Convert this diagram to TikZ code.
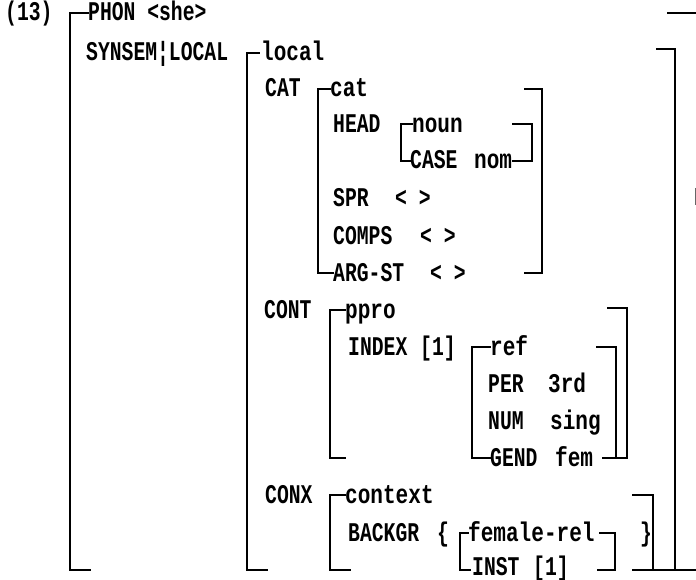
\documentclass[tikz,border=0pt]{standalone}
\usepackage{fontspec}
\newfontfamily\avmfont[FakeStretch=0.73]{Liberation Mono}
\newfontfamily\avmlower[FakeStretch=0.78]{Liberation Mono}
\tikzset{
  lbl/.style={anchor=base west, inner sep=0pt, font=\avmfont\bfseries\fontsize{27}{27}\selectfont},
  val/.style={anchor=base west, inner sep=0pt, font=\avmlower\bfseries\fontsize{27}{27}\selectfont},
  brk/.style={line width=1.6pt, line cap=rect}
}
\begin{document}
\begin{tikzpicture}[x=1pt,y=-1pt]
\useasboundingbox (0,0) rectangle (696,580);
% texts (baseline = row centre + 8)
\node[lbl] (num) at (5,21) {(13)};
\node[lbl] (phon) at (88,21) {PHON <she>};
\node[lbl] (synsem) at (86,61) {SYNSEM¦LOCAL};
\node[val] (local) at (261,61) {local};
\node[lbl] (catf) at (265,97) {CAT};
\node[val] (cat) at (330,97) {cat};
\node[lbl] (head) at (333,133) {HEAD};
\node[val] (noun) at (412,133) {noun};
\node[lbl] (case) at (410,169) {CASE};
\node[val] (nom) at (474,169) {nom};
\node[lbl] (spr) at (333,207) {SPR};
\node[lbl] (sprv) at (395,207) {< >};
\node[lbl] (comps) at (333,244) {COMPS};
\node[lbl] (compsv) at (420,244) {< >};
\node[lbl] (argst) at (333,281) {ARG-ST};
\node[lbl] (argstv) at (430,281) {< >};
\node[lbl] (cont) at (264,318) {CONT};
\node[val] (ppro) at (345,318) {ppro};
\node[lbl] (index) at (348,355) {INDEX};
\node[lbl] (indexv) at (420,355) {[1]};
\node[val] (ref) at (490,355) {ref};
\node[lbl] (per) at (488,392) {PER};
\node[val] (perv) at (548,392) {3rd};
\node[lbl] (numf) at (488,429) {NUM};
\node[val] (numv) at (550,429) {sing};
\node[lbl] (gend) at (490,466) {GEND};
\node[val] (gendv) at (555,466) {fem};
\node[lbl] (conx) at (265,503) {CONX};
\node[val] (context) at (345,503) {context};
\node[lbl] (backgr) at (348,541) {BACKGR};
\node[lbl] (lbrace) at (437,541) {\{};
\node[val] (femrel) at (468,541) {female-rel};
\node[lbl] (rbrace) at (640,541) {\}};
\node[lbl] (inst) at (472,575) {INST};
\node[lbl] (instv) at (533,575) {[1]};
% bracket A (outer)
\draw[brk] (88,13) -| (70,570) -- (90,570);
\draw[brk] (668,13) -- (700,13);
\draw[brk] (633,570) -- (700,570);
% bracket B (local)
\draw[brk] (259,53) -| (247,570) -- (267,570);
\draw[brk] (657,49) -| (675,570);
% bracket C (cat)
\draw[brk] (330,89) -| (318,273) -- (333,273);
\draw[brk] (525,89) -| (542,273) -- (525,273);
% bracket D (noun)
\draw[brk] (412,124) -| (401,161) -- (410,161);
\draw[brk] (513,124) -| (532,161) -- (513,161);
% bracket E (ppro)
\draw[brk] (345,310) -| (330,458) -- (345,458);
\draw[brk] (608,308) -| (627,458) -- (603,458);
% bracket F (ref)
\draw[brk] (490,347) -| (472,458) -- (490,458);
\draw[brk] (597,347) -| (616,458);
% bracket G (context)
\draw[brk] (345,495) -| (330,570) -- (350,570);
\draw[brk] (633,495) -| (653,570);
% bracket H (female-rel)
\draw[brk] (468,533) -| (460,570) -- (470,570);
\draw[brk] (600,533) -| (615,570) -- (598,570);
% small mark at right edge
\draw[line width=0.8pt, black!60] (695,188) -- (695,205);
\end{tikzpicture}
\end{document}
